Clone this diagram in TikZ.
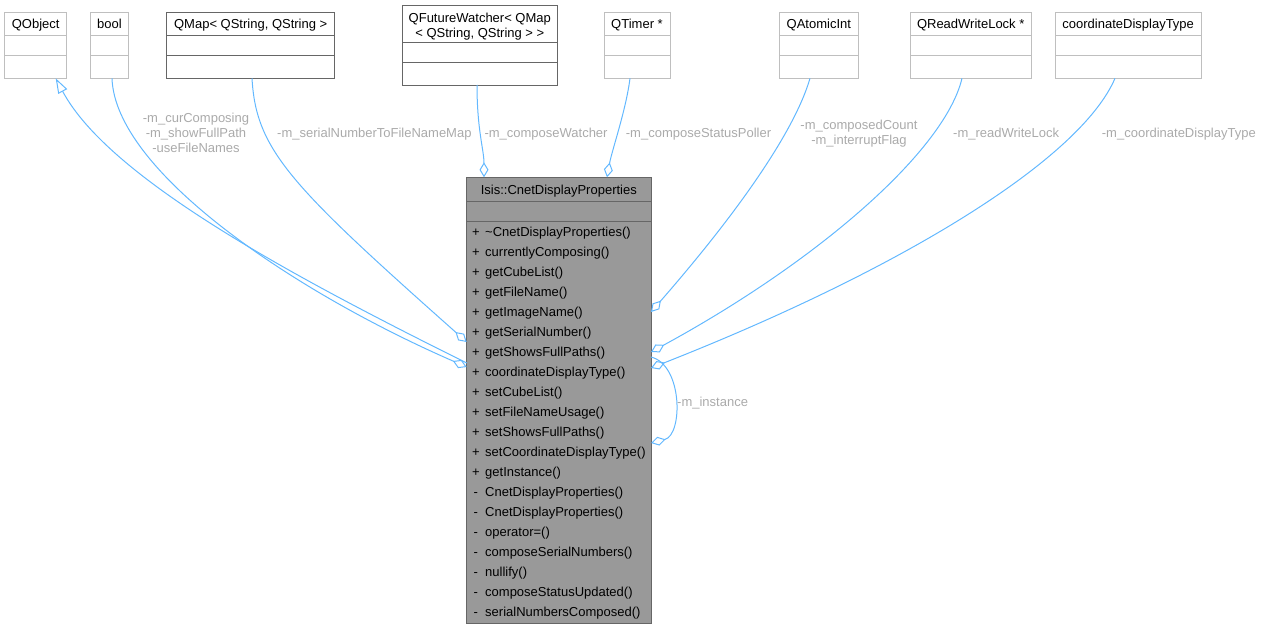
\documentclass[tikz,border=0pt]{standalone}
\usepackage{fontspec}
\setmainfont{Liberation Sans}
\usetikzlibrary{arrows.meta,calc}
\definecolor{edgeblue}{HTML}{63B8FF}
\definecolor{lblgray}{HTML}{AAAAAA}
\definecolor{lightborder}{HTML}{BFBFBF}
\definecolor{darkborder}{HTML}{666666}
\definecolor{mainfill}{HTML}{999999}
\newcommand\umlclass[9]{%
  % #1 name, #2 x, #3 y, #4 w, #5 h, #6 split1, #7 split2, #8 border colour, #9 fill
  \node[classbox, draw=#8, fill=#9, minimum width=#4pt, minimum height=#5pt] (#1) at (#2,#3) {};
  \draw[draw=#8, line width=1pt] ($(#1.north west)+(0,#6)$) -- ($(#1.north east)+(0,#6)$);
  \draw[draw=#8, line width=1pt] ($(#1.north west)+(0,#7)$) -- ($(#1.north east)+(0,#7)$);
}
\begin{document}
\begin{tikzpicture}[x=1pt,y=-1pt,font=\fontsize{13}{15}\selectfont,
  classbox/.style={rectangle, line width=1pt, inner sep=0pt, outer sep=0pt, anchor=north west},
  title/.style={anchor=base, inner sep=0pt, align=center},
  uses/.style={draw=edgeblue, line width=1pt, -{Diamond[open, length=15pt, width=9pt]}},
  inherit/.style={draw=edgeblue, line width=1pt, -{Triangle[open, length=15pt, width=10pt]}},
  elabel/.style={text=lblgray, inner sep=0pt, anchor=base west},
  elabelc/.style={text=lblgray, inner sep=0pt, anchor=base, align=center},
  member/.style={anchor=base west, inner sep=0pt},
  sign/.style={anchor=base, inner sep=0pt}]
\useasboundingbox (0,0) rectangle (1261,629);

% ---- classes ----
\umlclass{qobject}{4.7}{12.3}{62}{66}{23.4}{43.4}{lightborder}{white}
\node[title] (qobject-t) at (35.7,28.9) {QObject};
\umlclass{bool}{90.7}{12.3}{37.6}{66}{23.4}{43.4}{lightborder}{white}
\node[title] (bool-t) at (109.5,28.9) {bool};
\umlclass{qmap}{166.7}{12.3}{168}{66}{23.4}{43.4}{darkborder}{white}
\node[title] (qmap-t) at (250.7,28.9) {QMap< QString, QString >};
\umlclass{qfw}{402.3}{5}{155}{80}{37.7}{57.7}{darkborder}{white}
\node[title] (qfw-t) at (479.8,37.8) {QFutureWatcher< QMap\\< QString, QString > >};
\umlclass{qtimer}{604}{12.3}{66}{66}{23.4}{43.4}{lightborder}{white}
\node[title] (qtimer-t) at (637,28.9) {QTimer *};
\umlclass{qatomic}{779.3}{12.3}{79}{66}{23.4}{43.4}{lightborder}{white}
\node[title] (qatomic-t) at (818.8,28.9) {QAtomicInt};
\umlclass{qrwl}{910}{12.3}{121.3}{66}{23.4}{43.4}{lightborder}{white}
\node[title] (qrwl-t) at (970.7,28.9) {QReadWriteLock *};
\umlclass{cdt}{1055.3}{12.3}{145.7}{66}{23.4}{43.4}{lightborder}{white}
\node[title] (cdt-t) at (1128.2,28.9) {coordinateDisplayType};

\umlclass{main}{466.7}{177.3}{184.3}{446}{24.4}{43.7}{darkborder}{mainfill}
\node[title] (main-t) at (558.8,194.8) {Isis::CnetDisplayProperties};
\foreach \s/\m [count=\i from 0] in {
  +/\textasciitilde CnetDisplayProperties(),
  +/currentlyComposing(),
  +/getCubeList(),
  +/getFileName(),
  +/getImageName(),
  +/getSerialNumber(),
  +/getShowsFullPaths(),
  +/coordinateDisplayType(),
  +/setCubeList(),
  +/setFileNameUsage(),
  +/setShowsFullPaths(),
  +/setCoordinateDisplayType(),
  +/getInstance(),
  -/CnetDisplayProperties(),
  -/CnetDisplayProperties(),
  -/operator=(),
  -/composeSerialNumbers(),
  -/nullify(),
  -/composeStatusUpdated(),
  -/serialNumbersComposed()}{
  \node[sign] (sign-\i) at ($(main.north west)+(9.2,59.4+20*\i)$) {\s};
  \node[member] (mem-\i) at ($(main.north west)+(18.3,59.4+20*\i)$) {\m};
}

% ---- connectors ----
\draw[inherit] ($(main.north west)+(0,185.7)$) .. controls (300,280) and (110,180) .. ($(qobject.south west)+(51,0)$);
\draw[uses] ($(bool.south west)+(21.3,0)$) .. controls (115,170) and (290,290) .. ($(main.north west)+(0,189.7)$);
\draw[uses] ($(qmap.south west)+(85.3,0)$) .. controls (256,150) and (290,185) .. ($(main.north west)+(0,164.7)$);
\draw[uses] ($(qfw.south west)+(74.7,0)$) .. controls (477,130) and (484,150) .. ($(main.north west)+(17.3,0)$);
\draw[uses] ($(qtimer.south west)+(26,0)$) .. controls (626,110) and (612,150) .. ($(main.north west)+(140.3,0)$);
\draw[uses] ($(qatomic.south west)+(30.7,0)$) .. controls (795,130) and (740,210) .. ($(main.north east)+(0,134.7)$);
\draw[uses] ($(qrwl.south west)+(52,0)$) .. controls (945,150) and (820,260) .. ($(main.north east)+(0,174.7)$);
\draw[uses] ($(cdt.south west)+(59.7,0)$) .. controls (1080,160) and (900,270) .. ($(main.north east)+(0,190.7)$);
\draw[uses] ($(main.north east)+(0,179.7)$) .. controls (683,365) and (683,435) .. ($(main.north east)+(0,265.7)$);

% ---- connector labels ----
\node[elabelc] (lbl-bool) at (196,152.3) {-m\_curComposing\\-m\_showFullPath\\-useFileNames};
\node[elabel] (lbl-qmap) at (277,137.3) {-m\_serialNumberToFileNameMap};
\node[elabel] (lbl-qfw) at (484.3,137.3) {-m\_composeWatcher};
\node[elabel] (lbl-qtimer) at (625.7,137.3) {-m\_composeStatusPoller};
\node[elabelc] (lbl-qatomic) at (859,144.3) {-m\_composedCount\\-m\_interruptFlag};
\node[elabel] (lbl-qrwl) at (953,137.3) {-m\_readWriteLock};
\node[elabel] (lbl-cdt) at (1101.7,137.3) {-m\_coordinateDisplayType};
\node[elabel] (lbl-inst) at (677,406) {-m\_instance};
\end{tikzpicture}
\end{document}
